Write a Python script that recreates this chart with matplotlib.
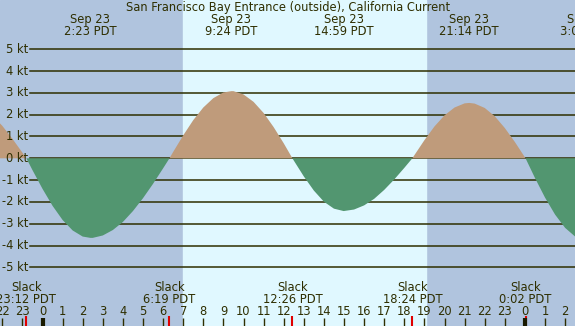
import matplotlib
matplotlib.use("Agg")
import matplotlib.pyplot as plt
import numpy as np

# ---- data ----
title = "San Francisco Bay Entrance (outside), California Current"
hours = [-2.5, -2.0, -1.5, -1.0, -0.8, -0.5, 0.0, 0.5, 1.0, 1.5, 2.0, 2.383, 2.5, 3.0, 3.5,
         4.0, 4.5, 5.0, 5.5, 6.0, 6.317, 6.5, 7.0, 7.5, 8.0, 8.5, 9.0, 9.4, 9.5, 10.0,
         10.5, 11.0, 11.5, 12.0, 12.433, 12.5, 13.0, 13.5, 14.0, 14.5, 14.983, 15.5, 16.0,
         16.5, 17.0, 17.5, 18.0, 18.4, 18.5, 19.0, 19.5, 20.0, 20.5, 21.0, 21.233, 21.5,
         22.0, 22.5, 23.0, 23.5, 24.033, 24.5, 25.0, 25.5, 26.0, 26.5, 27.0]
speed = [1.97, 1.49, 0.90, 0.26, 0.0, -0.54, -1.40, -2.18, -2.83, -3.31, -3.59, -3.65, -3.65,
         -3.54, -3.29, -2.92, -2.42, -1.83, -1.17, -0.46, 0.0, 0.29, 1.05, 1.75, 2.33, 2.76,
         3.02, 3.08, 3.08, 2.93, 2.59, 2.08, 1.43, 0.69, 0.0, -0.10, -0.83, -1.48, -1.99,
         -2.31, -2.42, -2.35, -2.16, -1.86, -1.45, -0.97, -0.44, 0.0, 0.14, 0.83, 1.46, 1.97,
         2.33, 2.52, 2.54, 2.51, 2.31, 1.93, 1.39, 0.75, 0.0, -0.90, -1.80, -2.58, -3.19,
         -3.59, -3.75]

peak_hours = [2.383, 9.4, 14.983, 21.233, 27.07]
peak_labels = ["2:23 PDT", "9:24 PDT", "14:59 PDT", "21:14 PDT", "3:04 PDT"]
slack_hours = [-0.8, 6.317, 12.433, 18.4, 24.033]
slack_labels = ["23:12 PDT", "6:19 PDT", "12:26 PDT", "18:24 PDT", "0:02 PDT"]
date_label = "Sep 23"
sunrise, sunset = 6.99, 19.08
tick_hours = list(range(-2, 27))
tick_labels = [str(h % 24) for h in tick_hours]
kt_levels = [5, 4, 3, 2, 1, 0, -1, -2, -3, -4, -5]

# ---- styling ----
W, H = 575, 326
PX_PER_H = 20.1
X0_PX = 42.5
Y0_PX = 158.3
PX_PER_KT = 21.8
night = "#b0c4de"
day = "#e0f8ff"
flood = "#bf9b7b"
ebb = "#529670"
ink = "#2e2e00"

def yd(ypx):
    return (Y0_PX - ypx) / PX_PER_KT

plt.rcParams['font.family'] = ['DejaVu Sans']
fig = plt.figure(figsize=(W / 100, H / 100), dpi=100)
ax = fig.add_axes([0, 0, 1, 1])
xmin = -X0_PX / PX_PER_H
xmax = (W - X0_PX) / PX_PER_H
ax.set_xlim(xmin, xmax)
ax.set_ylim(yd(H), yd(0))
ax.axis('off')

ax.axvspan(xmin, xmax, color=night, zorder=0)
ax.axvspan(sunrise, sunset, color=day, zorder=0.5)

for k in kt_levels:
    ax.axhline(k, xmin=30 / W, xmax=1, color=ink, lw=1.1, zorder=1)
    ax.text(28 / W, k, f"{k} kt", transform=ax.get_yaxis_transform(), ha='right',
            va='center', fontsize=8.3, color=ink, zorder=5)

t = np.array(hours)
s = np.array(speed)
ax.fill_between(t, 0, s, where=s >= 0, interpolate=True, color=flood, lw=0, zorder=2)
ax.fill_between(t, 0, s, where=s <= 0, interpolate=True, color=ebb, lw=0, zorder=2)

fs = 8.3
ax.text(0.5, yd(7.5), title, transform=ax.get_yaxis_transform() if False else ax.transData,
        fontsize=fs, color=ink, ha='center', va='center') if False else None
ax.text(288 / W, yd(7.5), title, transform=ax.get_yaxis_transform(), fontsize=fs,
        color=ink, ha='center', va='center', zorder=5)

for ph, pl in zip(peak_hours, peak_labels):
    ax.text(ph, yd(19.5), date_label, fontsize=fs, color=ink, ha='center', va='center', zorder=5)
    ax.text(ph, yd(31.5), pl, fontsize=fs, color=ink, ha='center', va='center', zorder=5)

for sh, sl in zip(slack_hours, slack_labels):
    ax.text(sh, yd(287.5), "Slack", fontsize=fs, color=ink, ha='center', va='center', zorder=5)
    ax.text(sh, yd(299.5), sl, fontsize=fs, color=ink, ha='center', va='center', zorder=5)
    ax.vlines(sh, yd(316), yd(H), color='#e00000', lw=1.5, zorder=4)

for th, tl in zip(tick_hours, tick_labels):
    ax.text(th, yd(311.5), tl, fontsize=fs, color=ink, ha='center', va='center', zorder=5)
    if th % 24 == 0:
        ax.vlines(th, yd(318), yd(H), color='#1a1a00', lw=3.0, zorder=4)
    else:
        ax.vlines(th, yd(318), yd(H), color=ink, lw=1.0, zorder=4)

fig.savefig("out.png", dpi=100)
